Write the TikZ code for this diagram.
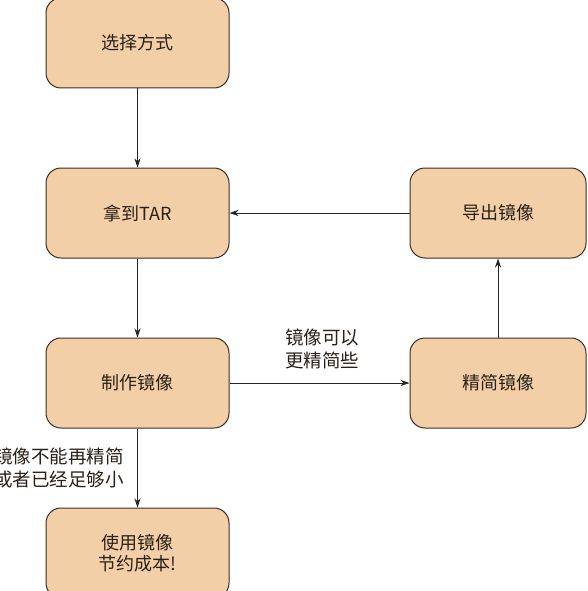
\documentclass[tikz,border=0pt]{standalone}
\usepackage{fontspec}
\setmainfont{Noto Sans CJK SC}
\usetikzlibrary{arrows.meta}
\definecolor{boxfill}{HTML}{F2CFA6}
\definecolor{boxline}{HTML}{3A2E24}
\definecolor{txt}{HTML}{2A2018}
\tikzset{
  stepbox/.style={draw=boxline, fill=boxfill, line width=1pt, rounded corners=15pt,
    minimum height=90pt, align=center, text=txt, font=\fontsize{18}{21}\selectfont, inner sep=0pt},
  leftbox/.style={stepbox, minimum width=183pt},
  rightbox/.style={stepbox, minimum width=176pt},
  conn/.style={draw=black!85, line width=0.8pt, -{Stealth[length=9pt,width=6pt]}},
  lbl/.style={text=txt, font=\fontsize{18.5}{22.5}\selectfont, align=center, inner sep=0pt}
}
\begin{document}
\begin{tikzpicture}[x=1pt,y=-1pt]
\useasboundingbox (0,0) rectangle (588,591);
\clip (0,0) rectangle (588,591);
\fill[white] (0,0) rectangle (588,591);
\node[leftbox] (choose) at (137.5,43) {选择方式};
\node[leftbox] (tar) at (137.5,213) {拿到TAR};
\node[leftbox] (make) at (137.5,383) {制作镜像};
\node[leftbox] (use) at (137.5,553) {使用镜像\\节约成本!};
\node[rightbox] (export) at (498,213) {导出镜像};
\node[rightbox] (slim) at (498,383) {精简镜像};
\draw[conn] (choose) -- (tar);
\draw[conn] (tar) -- (make);
\draw[conn] (make) -- (use);
\draw[conn] (make) -- (slim);
\draw[conn] (slim) -- (export);
\draw[conn] (export) -- (tar);
\node[lbl] (lblslim) at (322,349) {镜像可以\\更精简些};
\node[lbl, anchor=east] (lbldone) at (124,468) {镜像不能再精简\\或者已经足够小};
\end{tikzpicture}
\end{document}
